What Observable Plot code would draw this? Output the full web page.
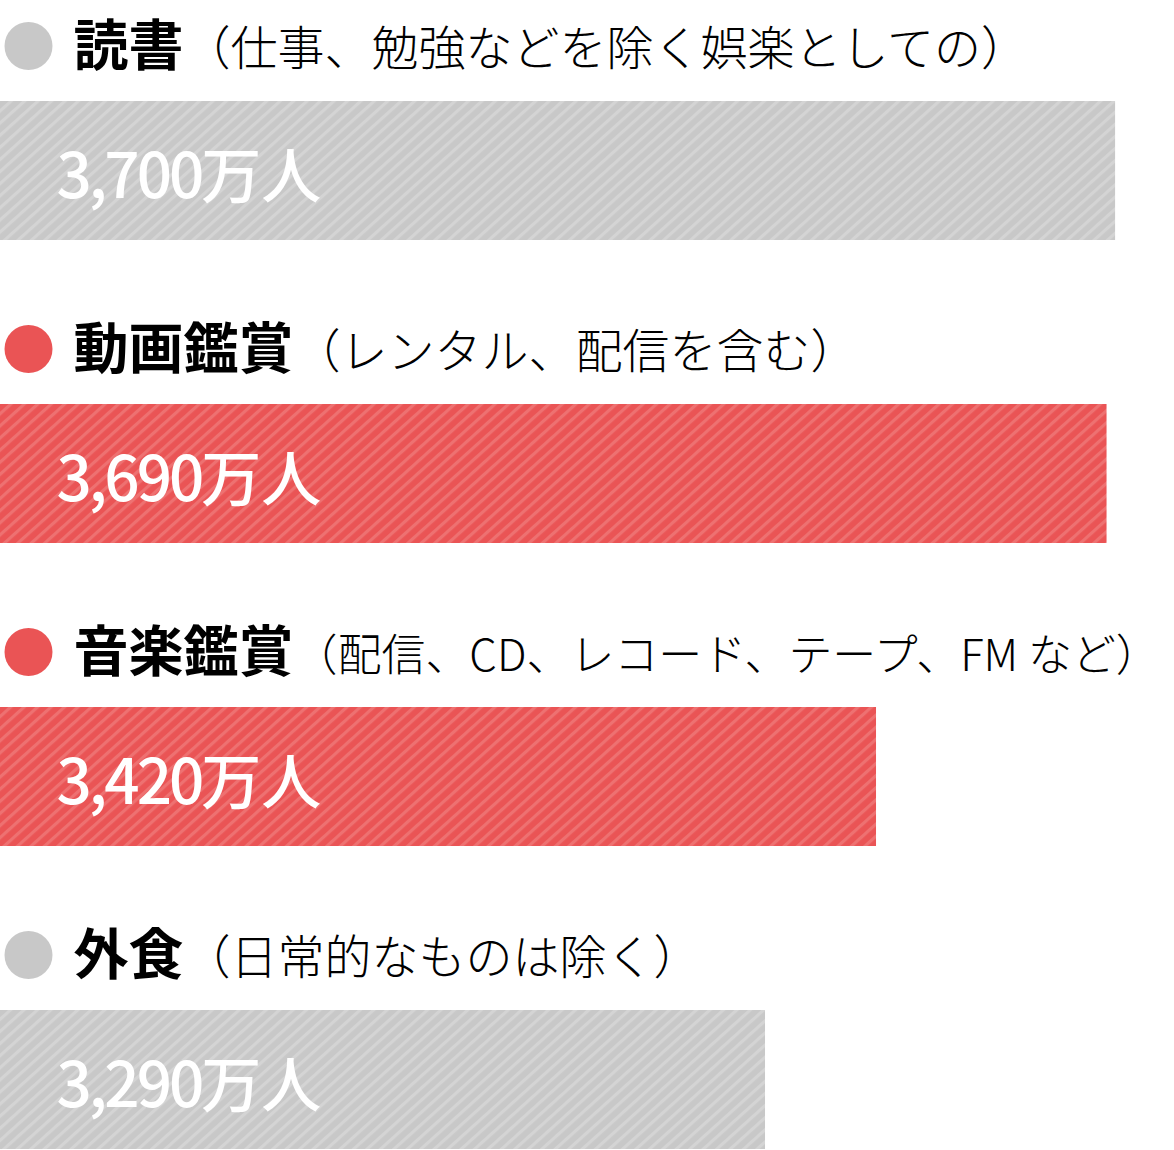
<!DOCTYPE html>
<html>
<head>
<meta charset="utf-8">
<script src="https://cdn.jsdelivr.net/npm/d3@7"></script>
<script src="https://cdn.jsdelivr.net/npm/@observablehq/plot@0.6"></script>
<style>
  html, body { margin: 0; padding: 0; background: #fff; overflow: hidden; }
  #chart svg { display: block; }
</style>
</head>
<body>
<div id="chart"></div>
<script>
// ---- data ----
const categories = ["読書", "動画鑑賞", "音楽鑑賞", "外食"];
const notes = [
  "（仕事、勉強などを除く娯楽としての）",
  "（レンタル、配信を含む）",
  "（配信、CD、レコード、テープ、FM など）",
  "（日常的なものは除く）"
];
const values = [3700, 3690, 3420, 3290]; // 万人
const highlighted = ["動画鑑賞", "音楽鑑賞"];
const unit = "万人";

const rows = categories.map((c, i) => ({cat: c, note: notes[i], value: values[i]}));

const W = 1174, H = 1150;
const X_DOMAIN = [2394, 3769];
const fmt = d3.format(",");
const JP = "'Noto Sans CJK JP', 'Noto Sans CJK SC', sans-serif";
const NOTE_SIZE = 47;

const fillFor = d => highlighted.includes(d.cat) ? "url(#hatch-red)" : "url(#hatch-gray)";
const dotFor = d => highlighted.includes(d.cat) ? "#ea5455" : "#c8c8c8";

const chart = Plot.plot({
  width: W,
  height: H,
  margin: 0,
  style: {background: "#fff", fontFamily: JP, fontSize: "16px", color: "#000"},
  x: {domain: X_DOMAIN, range: [0, W], axis: null},
  y: {domain: categories, range: [-64, H], padding: 0, axis: null},
  color: {type: "identity"},
  marks: [
    Plot.barX(rows, {
      y: "cat",
      x1: () => X_DOMAIN[0],
      x2: "value",
      fill: fillFor,
      insetTop: 164
    }),
    Plot.dot(rows, {
      y: "cat",
      frameAnchor: "left",
      dx: 28,
      dy: -43,
      r: 24,
      fill: dotFor,
      stroke: null
    }),
    Plot.text(rows, {
      y: "cat",
      text: "cat",
      frameAnchor: "left",
      textAnchor: "start",
      dx: 73,
      dy: -42,
      fontSize: 55,
      fontWeight: 700,
      fill: "#000",
      className: "row-title",
      render(index, scales, values, dims, context, next) {
        const g = next(index, scales, values, dims, context);
        d3.select(g).selectAll("text").each(function(_, j) {
          d3.select(this).append("tspan")
            .attr("class", "note")
            .attr("font-size", NOTE_SIZE)
            .attr("font-weight", 300)
            .text(rows[index[j]].note);
        });
        return g;
      }
    }),
    Plot.text(rows, {
      y: "cat",
      text: d => fmt(d.value),
      frameAnchor: "left",
      textAnchor: "start",
      dx: 56,
      dy: 89,
      fontSize: 62,
      fontWeight: 500,
      fill: "#fff",
      render(index, scales, values, dims, context, next) {
        const g = next(index, scales, values, dims, context);
        d3.select(g).selectAll("text").each(function(_, j) {
          const t = d3.select(this);
          const num = t.text();
          t.text(null);
          t.append("tspan").attr("letter-spacing", "-3px").text(num);
          t.append("tspan").attr("font-size", 60).text(unit);
        });
        return g;
      }
    })
  ]
});

// hatch patterns
const defs = d3.select(chart).insert("defs", ":first-child");
function hatch(id, base, stripe) {
  const p = defs.append("pattern")
    .attr("id", id)
    .attr("patternUnits", "userSpaceOnUse")
    .attr("width", 9)
    .attr("height", 9)
    .attr("patternTransform", "rotate(-42)");
  p.append("rect").attr("width", 9).attr("height", 9).attr("fill", base);
  p.append("rect").attr("y", 0).attr("width", 9).attr("height", 3.2).attr("fill", stripe);
}
hatch("hatch-gray", "#c8c8c8", "#d4d4d4");
hatch("hatch-red", "#ea5455", "#ee7171");

document.getElementById("chart").appendChild(chart);

// keep long notes inside the frame: shrink the note's font size to fit
d3.select(chart).selectAll(".row-title text").each(function() {
  const r = this.getBoundingClientRect();
  const limit = W - 14;
  if (r.right > limit) {
    const tspan = this.querySelector("tspan.note");
    const cur = tspan.getComputedTextLength();
    const target = cur - (r.right - limit);
    tspan.setAttribute("font-size", (NOTE_SIZE * target / cur).toFixed(2));
  }
});
</script>
</body>
</html>
